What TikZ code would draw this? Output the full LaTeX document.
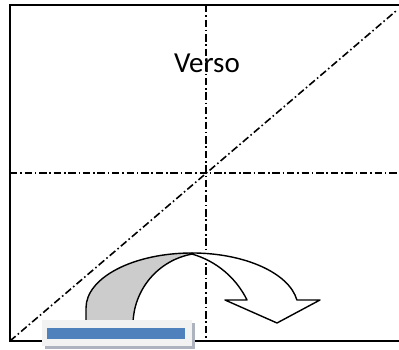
\documentclass[tikz,border=0pt]{standalone}
\usepackage{fontspec}
\setmainfont{Carlito}
\definecolor{barblue}{HTML}{4F81BD}
\definecolor{panelgray}{HTML}{F2F2F2}
\definecolor{panelshadow}{HTML}{AEB4BF}
\definecolor{backgray}{HTML}{CCCCCC}
\begin{document}
\begin{tikzpicture}[x=0.02cm, y=0.02cm,
        frame/.style={line width=1.4pt},
        axis/.style={line width=0.9pt, dash pattern=on 4.2pt off 1.6pt on 0.9pt off 1.6pt},
        band/.style={draw, line width=0.8pt, line join=round},
        title/.style={font=\fontsize{16.5}{19}\selectfont, inner sep=0pt},
    ]
    \useasboundingbox (0,0) rectangle (399,350);

    % sheet corners
    \coordinate (tl) at (10,345);
    \coordinate (bl) at (10,9);
    \coordinate (tr) at (400,345);
    \coordinate (br) at (400,9);
    \coordinate (top) at (206,345);
    \coordinate (bottom) at (206,9);
    \coordinate (left) at (10,177);
    \coordinate (right) at (400,177);
    \coordinate (corner) at (396,339);

    \draw[frame] (tr) -- (tl) -- (bl) -- (br);
    \draw[axis] (top) -- (bottom);
    \draw[axis] (left) -- (right);
    \draw[axis] (bl) -- (corner);

    \node[title] (verso) at (207,287) {Verso};

    % folding arrow
    \path[band, fill=backgray] (86,20) -- (86,42)
        arc[start angle=180, end angle=90, x radius=106, y radius=55]
        -- (192.5,96) arc[start angle=100, end angle=180, radius=72] -- (133,20) -- cycle;
    \path[band, fill=white] (192,97)
        arc[start angle=90, end angle=8.4, x radius=106, y radius=55]
        -- (320,50) -- (277,27) -- (225,50) -- (247,50)
        arc[start angle=26.1, end angle=74.1, radius=88] -- cycle;

    % bar
    \fill[panelshadow] (45,1) rectangle (195,27);
    \fill[panelgray] (42,4) rectangle (192,30);
    \fill[barblue] (47,11) rectangle (185,22);
\end{tikzpicture}
\end{document}
